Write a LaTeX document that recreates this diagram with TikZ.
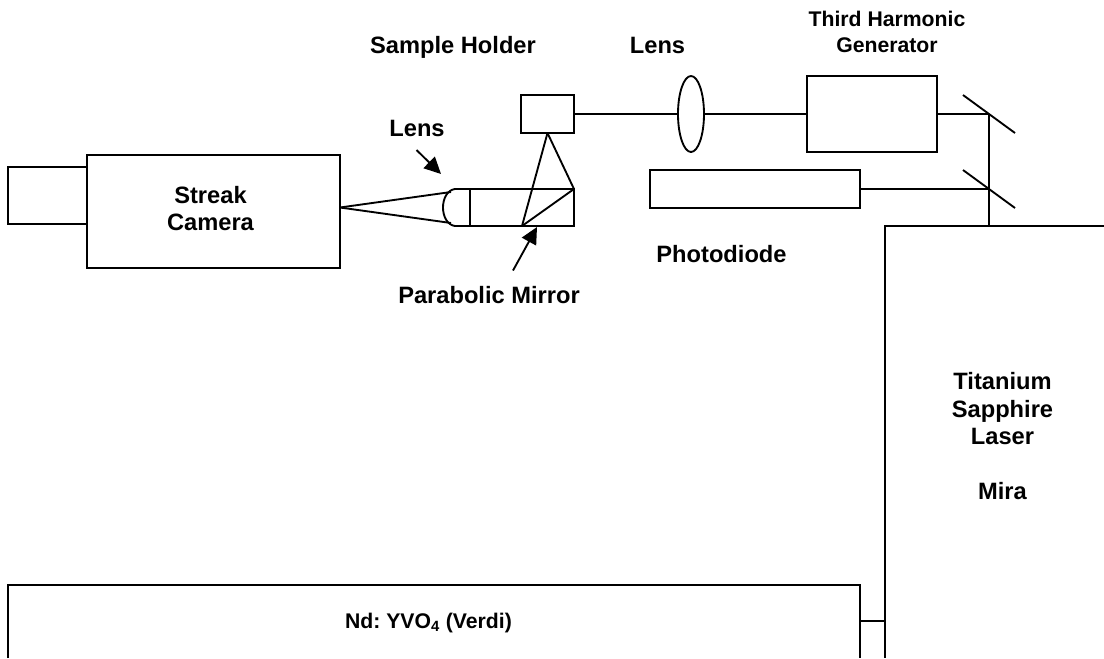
\documentclass[tikz,border=0pt]{standalone}
\usepackage{fontspec}
\setmainfont{Liberation Sans}
\usetikzlibrary{shapes.geometric, arrows.meta}

\begin{document}
\begin{tikzpicture}[
	x=0.75pt, y=-0.75pt,
	part/.style={rectangle, draw=black, line width=1.4pt, inner sep=0pt, outer sep=0pt},
	beam/.style={draw=black, line width=1.4pt},
	lbl/.style={font=\fontsize{17.75}{20.6}\selectfont\bfseries, align=center, inner sep=0pt},
	lblsmall/.style={font=\fontsize{15.9}{19.5}\selectfont\bfseries, align=center, inner sep=0pt},
	pointer/.style={-{Triangle[length=12.5pt, width=12pt]}, draw=black, line width=1.4pt}
	]
\useasboundingbox (0,0) rectangle (1104,658);

\node[part, minimum width=59.25pt, minimum height=42.75pt] (back) at (47.5,195.5) {};
\node[part, minimum width=189.75pt, minimum height=84.75pt] (camera) at (213.5,211.5) {};
\node[part, minimum width=78pt, minimum height=27.75pt] (mirror) at (522,207.5) {};
\node[part, minimum width=39.75pt, minimum height=28.5pt] (holder) at (547.5,114) {};
\node[part, ellipse, minimum width=19.5pt, minimum height=57pt] (lens) at (691,114) {};
\node[part, minimum width=97.5pt, minimum height=56.6pt] (thg) at (872,114) {};
\node[part, minimum width=157.5pt, minimum height=28.5pt] (diode) at (755,189) {};

% beam folding mirrors
\coordinate (upa) at (963,95);
\coordinate (upb) at (1015,133);
\coordinate (upc) at (989,114);
\coordinate (loa) at (963,170);
\coordinate (lob) at (1015,208);
\coordinate (loc) at (989,189);
\draw[beam] (upa) -- (upb);
\draw[beam] (loa) -- (lob);

% lasers run off the page
\coordinate (mira) at (885,226);
\coordinate (miraend) at (1104,226);
\coordinate (mirafoot) at (885,658);
\coordinate (mirabeam) at (989,226);
\draw[beam] (miraend) -- (mira) -- (mirafoot);
\coordinate (verdia) at (8,658);
\coordinate (verdib) at (8,585);
\coordinate (verdic) at (860,585);
\coordinate (verdid) at (860,658);
\coordinate (verdiout) at (860,621);
\coordinate (mirain) at (885,621);
\draw[beam] (verdia) -- (verdib) -- (verdic) -- (verdid);
\draw[beam] (verdiout) -- (mirain);

% beam path
\draw[beam] (holder.east) -- (lens.west);
\draw[beam] (lens.east) -- (thg.west);
\draw[beam] (thg.east) -- (upc);
\draw[beam] (diode.east) -- (loc);
\draw[beam] (upc) -- (mirabeam);
\draw[beam] (mirror.south) -- (mirror.north east);
\draw[beam] (mirror.south) -- (holder.south);
\draw[beam] (mirror.north east) -- (holder.south);

% collecting lens
\coordinate (focus) at (340,207.5);
\coordinate (lensa) at (451,192);
\coordinate (lensb) at (451,223);
\draw[beam] (mirror.north west) -- (455,189) .. controls (447,190) and (443,199) .. (443,207.5)
	.. controls (443,216) and (447,225) .. (455,226) -- (mirror.south west);
\draw[beam] (focus) -- (lensa);
\draw[beam] (focus) -- (lensb);

\node[lbl, anchor=base] (holdertxt) at (453,53) {Sample Holder};
\node[lbl, anchor=base] (lenstxt) at (657.5,53) {Lens};
\node[lblsmall] (thgtxt) at (887,31.5) {Third Harmonic\\ Generator};
\node[lbl, anchor=base] (lenstxtb) at (417,136) {Lens};
\node[lbl] (cameratxt) at (210.5,208.5) {Streak\\ Camera};
\node[lbl, anchor=base] (diodetxt) at (721.5,262) {Photodiode};
\node[lbl, anchor=base] (mirrortxt) at (489,303) {Parabolic Mirror};
\node[lbl] (miratxt) at (1002.5,436) {Titanium\\ Sapphire\\ Laser\\ \\ Mira};
\node[lblsmall, anchor=base] (verditxt) at (428.5,628) {Nd:\ YVO\textsubscript{4} (Verdi)};

% pointers
\coordinate (lensptr) at (416.5,150);
\coordinate (lenstip) at (441,174);
\coordinate (mirrorptr) at (513,270.5);
\coordinate (mirrortip) at (537,227);
\draw[pointer] (lensptr) -- (lenstip);
\draw[pointer] (mirrorptr) -- (mirrortip);
\end{tikzpicture}
\end{document}
